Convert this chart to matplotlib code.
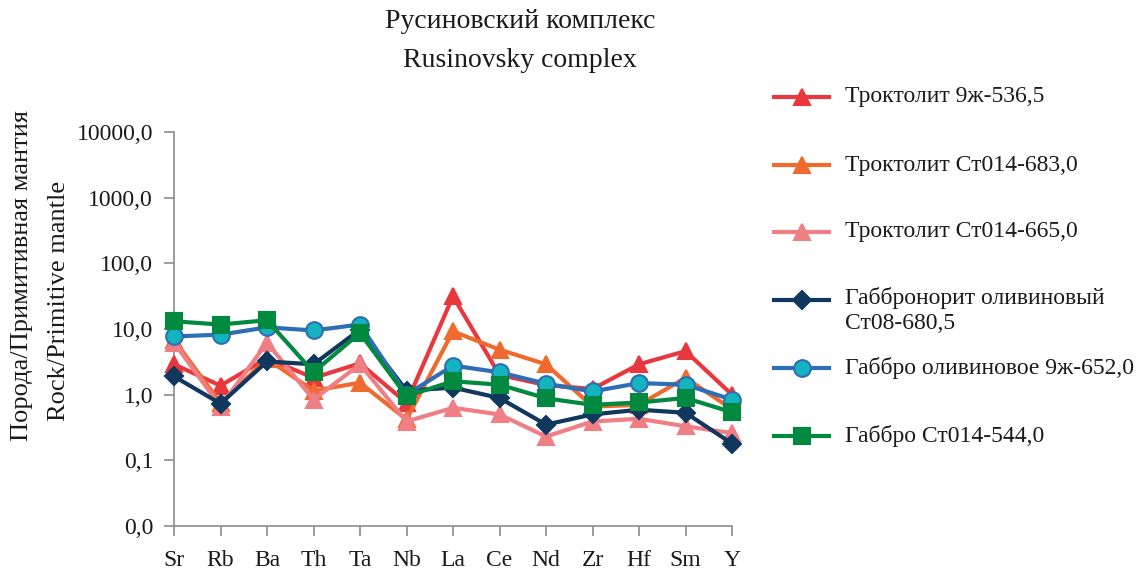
import matplotlib.pyplot as plt
from matplotlib.lines import Line2D
from matplotlib.ticker import FixedLocator, FuncFormatter
import numpy as np

plt.rcParams['font.family'] = ['Liberation Serif', 'DejaVu Serif']

elements = ['Sr', 'Rb', 'Ba', 'Th', 'Ta', 'Nb', 'La', 'Ce', 'Nd', 'Zr', 'Hf', 'Sm', 'Y']

troct_536 = [2.9, 1.37, 3.6, 1.8, 3.0, 0.75, 31.5, 2.0, 1.4, 1.22, 2.9, 4.6, 1.0]
troct_683 = [6.8, 0.75, 3.5, 1.15, 1.52, 0.42, 9.2, 4.85, 2.9, 0.66, 0.70, 1.8, 0.6]
troct_665 = [6.2, 0.66, 6.2, 0.84, 2.9, 0.39, 0.63, 0.50, 0.23, 0.39, 0.43, 0.33, 0.26]
gabbronorite = [1.9, 0.73, 3.2, 2.9, 9.8, 1.15, 1.28, 0.89, 0.35, 0.50, 0.59, 0.53, 0.18]
gabbro_olv = [7.7, 8.2, 10.6, 9.5, 11.7, 1.0, 2.77, 2.19, 1.47, 1.12, 1.5, 1.42, 0.84]
gabbro_544 = [13.1, 11.7, 13.6, 2.2, 8.7, 0.95, 1.6, 1.42, 0.88, 0.70, 0.76, 0.89, 0.54]

labels = ['Троктолит 9ж-536,5', 'Троктолит Ст014-683,0', 'Троктолит Ст014-665,0',
          'Габбронорит оливиновый\nСт08-680,5', 'Габбро оливиновое 9ж-652,0',
          'Габбро Ст014-544,0']

# line colour, marker, marker face, marker edge, marker size
styles = [
    ('#e8373d', '^', '#e8373d', '#e8373d', 12),
    ('#f06a2f', '^', '#f06a2f', '#f06a2f', 12),
    ('#ef7e85', '^', '#ef7e85', '#ef7e85', 12),
    ('#10375e', 'D', '#10375e', '#10375e', 9),
    ('#2f6db5', 'o', '#13b3bf', '#2f6db5', 12),
    ('#00893f', 's', '#00893f', '#00893f', 11),
]
series = [troct_536, troct_683, troct_665, gabbronorite, gabbro_olv, gabbro_544]

fig = plt.figure(figsize=(11.48, 5.73), dpi=100)
ax = fig.add_axes([174 / 1148, 47 / 573, 558 / 1148, 394 / 573])

x = np.arange(len(elements))
for vals, (lc, mk, mf, me, ms) in zip(series, styles):
    ax.plot(x, vals, color=lc, lw=3, marker=mk, markersize=ms,
            markerfacecolor=mf, markeredgecolor=me, markeredgewidth=1.5,
            clip_on=False, zorder=3)

ax.set_yscale('log')
ax.set_ylim(0.01, 10000)
ax.set_xlim(0, len(elements) - 1)
ax.yaxis.set_major_locator(FixedLocator([0.01, 0.1, 1, 10, 100, 1000, 10000]))
ax.yaxis.set_minor_locator(FixedLocator([]))
ax.yaxis.set_major_formatter(FuncFormatter(lambda v, p: f'{v:.1f}'.replace('.', ',')))
ax.set_xticks(x)
ax.set_xticklabels(elements)

for s in ['top', 'right']:
    ax.spines[s].set_visible(False)
for s in ['left', 'bottom']:
    ax.spines[s].set_color('#8c8c8c')
    ax.spines[s].set_linewidth(1.2)
ax.tick_params(axis='both', colors='#8c8c8c', width=1.2, length=7,
               labelsize=17, labelcolor='#1a1a1a')
ax.tick_params(axis='x', pad=10)
ax.tick_params(axis='y', pad=8)

fig.text(520 / 1148, 0.962, 'Русиновский комплекс', ha='center', va='center',
         fontsize=20, color='#1a1a1a')
fig.text(520 / 1148, 0.895, 'Rusinovsky complex', ha='center', va='center',
         fontsize=20, color='#1a1a1a')

fig.text(0.019, 0.52, 'Порода/Примитивная мантия', rotation=90,
         ha='center', va='center', fontsize=19, color='#1a1a1a')
fig.text(0.051, 0.475, 'Rock/Primitive mantle', rotation=90,
         ha='center', va='center', fontsize=19, color='#1a1a1a')

# legend drawn by hand so the two-line entry keeps the even spacing
leg_y = [97, 165, 232, 300, 368, 436]
x0, x1 = 774 / 1148, 829 / 1148
for yy, lab, (lc, mk, mf, me, ms) in zip(leg_y, labels, styles):
    yf = 1 - yy / 573
    fig.add_artist(Line2D([x0, (x0 + x1) / 2, x1], [yf, yf, yf],
                          transform=fig.transFigure, color=lc, lw=3,
                          marker=mk, markersize=ms, markevery=[1],
                          markerfacecolor=mf, markeredgecolor=me,
                          markeredgewidth=1.5))
    if '\n' in lab:
        fig.text(845 / 1148, yf + 0.022, lab, ha='left', va='top',
                 fontsize=17, color='#1a1a1a', linespacing=1.25)
    else:
        fig.text(845 / 1148, yf, lab, ha='left', va='center',
                 fontsize=17, color='#1a1a1a')

fig.savefig('out.png', dpi=100)
